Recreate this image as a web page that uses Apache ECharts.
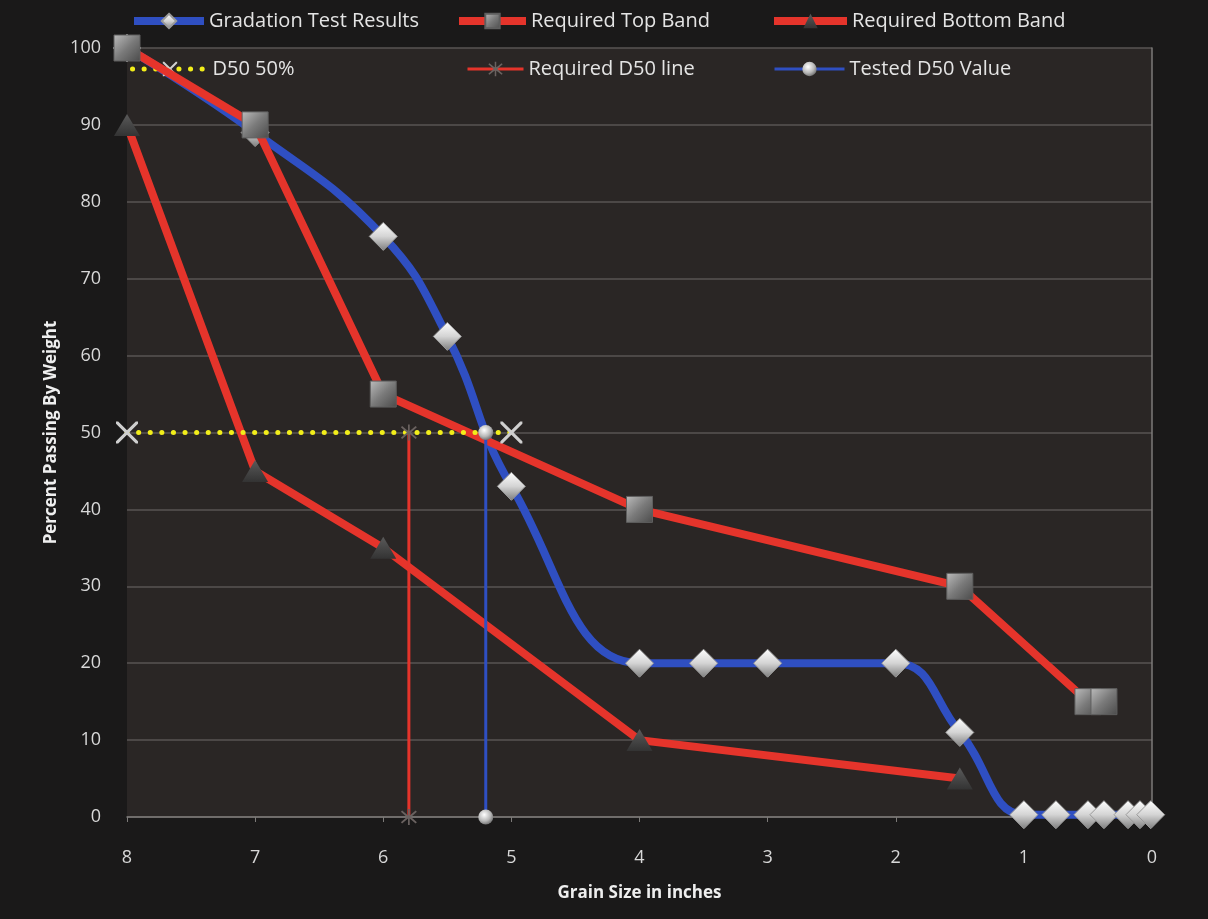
<!DOCTYPE html>
<html lang="en">
<head>
    <meta charset="UTF-8">
    <title>Gradation Chart</title>
    <script src="https://cdn.jsdelivr.net/npm/echarts@6/dist/echarts.min.js"></script>
    <style>
        html, body { margin: 0; padding: 0; background: #1a1919; }
        #chart { width: 1208px; height: 919px; }
    </style>
</head>
<body>
    <div id="chart"></div>
    <script>
// data
const gradX = [8, 7, 6, 5.5, 5, 4, 3.5, 3, 2, 1.5, 1, 0.75, 0.5, 0.375, 0.187, 0.094, 0.01];
const gradY = [100, 89, 75.5, 62.5, 43, 20, 20, 20, 20, 11, 0.3, 0.3, 0.3, 0.3, 0.3, 0.3, 0.3];
const topX = [8, 7, 6, 4, 1.5, 0.5, 0.375];
const topY = [100, 90, 55, 40, 30, 15, 15];
const botX = [8, 7, 6, 4, 1.5];
const botY = [90, 45, 35, 10, 5];
const d50X = [8, 5];
const d50Y = [50, 50];
const reqD50X = [5.8, 5.8];
const reqD50Y = [50, 0];
const testD50X = [5.2, 5.2];
const testD50Y = [50, 0];
const xTicks = [0, 1, 2, 3, 4, 5, 6, 7, 8];
const yTicks = [0, 10, 20, 30, 40, 50, 60, 70, 80, 90, 100];

const names = ['Gradation Test Results', 'Required Top Band', 'Required Bottom Band',
    'D50 50%', 'Required D50 line', 'Tested D50 Value'];

const FONT = '"Open Sans", sans-serif';
const BLUE = '#2f4fc2';
const RED = '#e5342b';

function pairs(xs, ys) {
    return xs.map((x, i) => [x, ys[i]]);
}

const crossPath = 'path://M0,0 L2,0 L10,8 L18,0 L20,0 L20,2 L12,10 L20,18 L20,20 L18,20 L10,12 L2,20 L0,20 L0,18 L8,10 L0,2 Z';
const starPath = 'path://M9,0 L11,0 L11,8 L18,2 L19.5,3.5 L12.5,10 L19.5,16.5 L18,18 L11,12 L11,20 L9,20 L9,12 L2,18 L0.5,16.5 L7.5,10 L0.5,3.5 L2,2 L9,8 Z';

const silver = {
    type: 'linear', x: 0, y: 0, x2: 0, y2: 1,
    colorStops: [{ offset: 0, color: '#ffffff' }, { offset: 0.5, color: '#d4d4d4' }, { offset: 1, color: '#7c7c7c' }]
};
const grayBox = {
    type: 'linear', x: 0, y: 0, x2: 1, y2: 1,
    colorStops: [{ offset: 0, color: '#bdbdbd' }, { offset: 0.5, color: '#7a7a7a' }, { offset: 1, color: '#4a4a4a' }]
};
const darkTri = {
    type: 'linear', x: 0, y: 0, x2: 0, y2: 1,
    colorStops: [{ offset: 0, color: '#5a5a5a' }, { offset: 1, color: '#333333' }]
};
const ball = {
    type: 'radial', x: 0.4, y: 0.35, r: 0.7,
    colorStops: [{ offset: 0, color: '#ffffff' }, { offset: 0.6, color: '#b8b8b8' }, { offset: 1, color: '#6a6a6a' }]
};

const legendText = { color: '#e4e4e4', fontSize: 20, fontFamily: FONT };
function legendAt(name, left, top, w, lw) {
    return {
        data: [name], left: left, top: top, itemWidth: w, itemHeight: 18,
        itemGap: 0, textStyle: legendText, padding: 0,
        lineStyle: { width: lw }
    };
}

const chart = echarts.init(document.getElementById('chart'));
chart.setOption({
    backgroundColor: '#1a1919',
    animation: false,
    legend: [
        legendAt(names[0], 130, 11, 70, 8),
        legendAt(names[1], 455, 11, 67, 8),
        legendAt(names[2], 770, 11, 73, 8),
        legendAt(names[3], 130, 59, 75, 5),
        legendAt(names[4], 466, 59, 56, 3),
        legendAt(names[5], 773, 59, 70, 3)
    ],
    grid: {
        left: 127, right: 56, top: 48, bottom: 102,
        show: true, backgroundColor: '#2a2625', borderWidth: 0
    },
    xAxis: {
        type: 'value', inverse: true, min: 0, max: 8, interval: 1,
        name: 'Grain Size in inches', nameLocation: 'middle', nameGap: 68,
        nameTextStyle: { color: '#eeeeee', fontSize: 17, fontWeight: 'bold', fontFamily: FONT },
        axisLine: { show: true, lineStyle: { color: '#7c7a78', width: 1.5 } },
        axisTick: { show: true, length: 5, lineStyle: { color: '#7c7a78' } },
        axisLabel: {
            color: '#d8d8d8', fontSize: 18, fontFamily: FONT, margin: 32,
            formatter: v => xTicks.includes(v) ? String(v) : ''
        },
        splitLine: { show: false }
    },
    yAxis: {
        type: 'value', min: 0, max: 100, interval: 10,
        name: 'Percent Passing By Weight', nameLocation: 'middle', nameGap: 66,
        nameTextStyle: { color: '#eeeeee', fontSize: 17, fontWeight: 'bold', fontFamily: FONT },
        axisLine: { show: true, lineStyle: { color: '#7c7a78', width: 1.5 } },
        axisTick: { show: false },
        axisLabel: {
            color: '#d8d8d8', fontSize: 18, fontFamily: FONT, margin: 26,
            formatter: v => yTicks.includes(v) ? String(v) : ''
        },
        splitLine: { show: true, lineStyle: { color: '#595553', width: 1.5 } }
    },
    series: [
        {
            name: names[0], type: 'line', data: pairs(gradX, gradY), smooth: 0.45,
            clip: false, z: 3,
            lineStyle: { color: BLUE, width: 8 },
            itemStyle: { color: silver, borderColor: '#9a9a9a', borderWidth: 1 },
            symbol: 'diamond', symbolSize: [28, 28]
        },
        {
            name: names[1], type: 'line', data: pairs(topX, topY),
            clip: false, z: 4,
            lineStyle: { color: RED, width: 8 },
            itemStyle: { color: grayBox, borderColor: '#5e5e5e', borderWidth: 1 },
            symbol: 'rect', symbolSize: [26, 26]
        },
        {
            name: names[2], type: 'line', data: pairs(botX, botY),
            clip: false, z: 4,
            lineStyle: { color: RED, width: 8 },
            itemStyle: { color: darkTri, borderWidth: 0 },
            symbol: 'triangle', symbolSize: [26, 22]
        },
        {
            name: names[3], type: 'line', data: pairs(d50X, d50Y),
            clip: false, z: 5,
            lineStyle: { color: '#f2ee1a', width: 5, type: [0.1, 11.5], cap: 'round' },
            itemStyle: { color: '#cfcfcf' },
            symbol: crossPath, symbolSize: 22
        },
        {
            name: names[4], type: 'line', data: pairs(reqD50X, reqD50Y),
            clip: false, z: 5,
            lineStyle: { color: RED, width: 3 },
            itemStyle: { color: '#6a6260' },
            symbol: starPath, symbolSize: 16
        },
        {
            name: names[5], type: 'line', data: pairs(testD50X, testD50Y),
            clip: false, z: 5,
            lineStyle: { color: BLUE, width: 3 },
            itemStyle: { color: ball },
            symbol: 'circle', symbolSize: 15
        }
    ]
});
    </script>
</body>
</html>
